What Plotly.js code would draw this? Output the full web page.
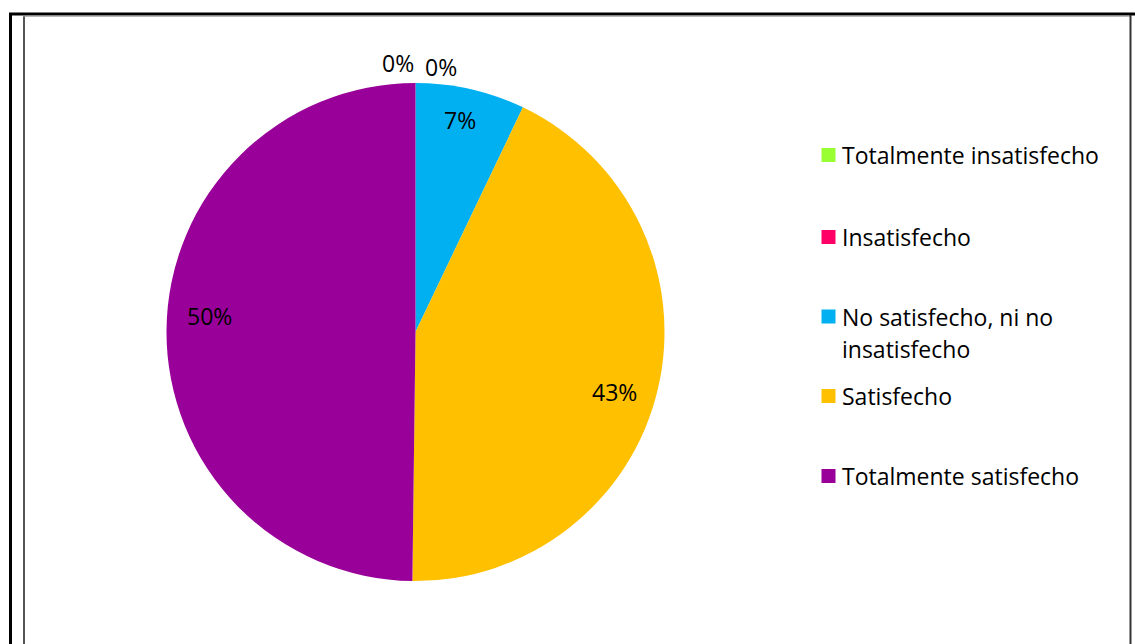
<!DOCTYPE html>
<html>
<head>
<meta charset="utf-8">
<script src="https://cdn.plot.ly/plotly-3.0.1.min.js"></script>
<style>
  html, body { margin: 0; padding: 0; background: #fff; }
  #chart { width: 1135px; height: 644px; }
</style>
</head>
<body>
<div id="chart"></div>
<script>
// ---- data ----
const categories = ['Totalmente insatisfecho', 'Insatisfecho', 'No satisfecho, ni no insatisfecho', 'Satisfecho', 'Totalmente satisfecho'];
const legendText = ['Totalmente insatisfecho', 'Insatisfecho', 'No satisfecho, ni no<br>insatisfecho', 'Satisfecho', 'Totalmente satisfecho'];
const values = [0, 0, 7.1, 43.1, 49.8];
const colors = ['#99FF33', '#FF0066', '#00B0F0', '#FFC000', '#990099'];

// ---- layout / style (pixels, degrees) ----
const W = 1135, H = 644;
const cx = 415.5, cy = 332, R = 249;
const FONT = '"Open Sans", sans-serif';
const fs = 23;
const labelAngleNudge = [0, 0, -0.8, 3.5, 4.2];   // best-fit placement tweaks
const labelRadius = [1.082, 1.082, 0.87, 0.835, 0.83];
const px = x => x / W;
const py = y => 1 - y / H;

const trace = {
  type: 'pie',
  labels: categories,
  values: values,
  marker: { colors: colors, line: { width: 0 } },
  sort: false,
  direction: 'clockwise',
  rotation: 0,
  textinfo: 'none',
  hoverinfo: 'label+percent',
  showlegend: false,
  domain: { x: [px(cx - R), px(cx + R)], y: [py(cy + R), py(cy - R)] }
};

const annotations = [];
const shapes = [];

// data labels computed from the values
const total = values.reduce((a, b) => a + b, 0);
let cum = 0;
let zeroCount = 0;
values.forEach((v, i) => {
  const pct = Math.round(v / total * 100) + '%';
  const mid = ((cum + v / 2) / total * 360 + labelAngleNudge[i]) * Math.PI / 180;
  cum += v;
  const r = R * labelRadius[i];
  let x = cx + r * Math.sin(mid);
  let y = cy - r * Math.cos(mid);
  let xanchor = 'center';
  if (v === 0) {
    // zero slices: labels set side by side at the slice edge
    if (zeroCount === 0) { x -= 0; xanchor = 'right'; }
    else { x += 7; y += 4; xanchor = 'left'; }
    zeroCount++;
  }
  annotations.push({
    xref: 'paper', yref: 'paper', x: px(x), y: py(y),
    xanchor: xanchor, yanchor: 'middle',
    text: pct, showarrow: false, font: { family: FONT, size: fs, color: '#000' }
  });
});

// legend (drawn as shapes + text), one text line per annotation
const legendY = [155, 237, 316.5, 396, 476];
const lineGap = 32;
const sq = 14;
categories.forEach((c, i) => {
  const yc = legendY[i];
  shapes.push({
    type: 'rect', xref: 'paper', yref: 'paper',
    x0: px(821.5), x1: px(821.5 + sq), y0: py(yc + sq / 2), y1: py(yc - sq / 2),
    fillcolor: colors[i], line: { width: 0 }
  });
  legendText[i].split('<br>').forEach((ln, k) => {
    annotations.push({
      xref: 'paper', yref: 'paper', x: px(840), y: py(yc + k * lineGap),
      xanchor: 'left', yanchor: 'middle', align: 'left',
      text: ln, showarrow: false,
      font: { family: FONT, size: fs, color: '#000' }
    });
  });
});

// frame lines
shapes.push({ type: 'line', xref: 'paper', yref: 'paper', x0: px(10.5), x1: px(10.5), y0: py(13), y1: 0, line: { color: '#000', width: 3 } });
shapes.push({ type: 'line', xref: 'paper', yref: 'paper', x0: px(9), x1: 1, y0: py(14), y1: py(14), line: { color: '#000', width: 3 } });
shapes.push({ type: 'line', xref: 'paper', yref: 'paper', x0: px(24), x1: px(24), y0: py(15.5), y1: 0, line: { color: '#555', width: 2 } });
shapes.push({ type: 'line', xref: 'paper', yref: 'paper', x0: px(23), x1: px(1131), y0: py(16.2), y1: py(16.2), line: { color: '#999', width: 1 } });
shapes.push({ type: 'line', xref: 'paper', yref: 'paper', x0: px(1130.5), x1: px(1130.5), y0: py(15), y1: 0, line: { color: '#333', width: 2 } });

const layout = {
  width: W, height: H,
  margin: { l: 0, r: 0, t: 0, b: 0 },
  paper_bgcolor: '#fff',
  showlegend: false,
  annotations: annotations,
  shapes: shapes,
  font: { family: FONT, size: fs, color: '#000' }
};

Plotly.newPlot('chart', [trace], layout, { displayModeBar: false, staticPlot: true });
</script>
</body>
</html>
